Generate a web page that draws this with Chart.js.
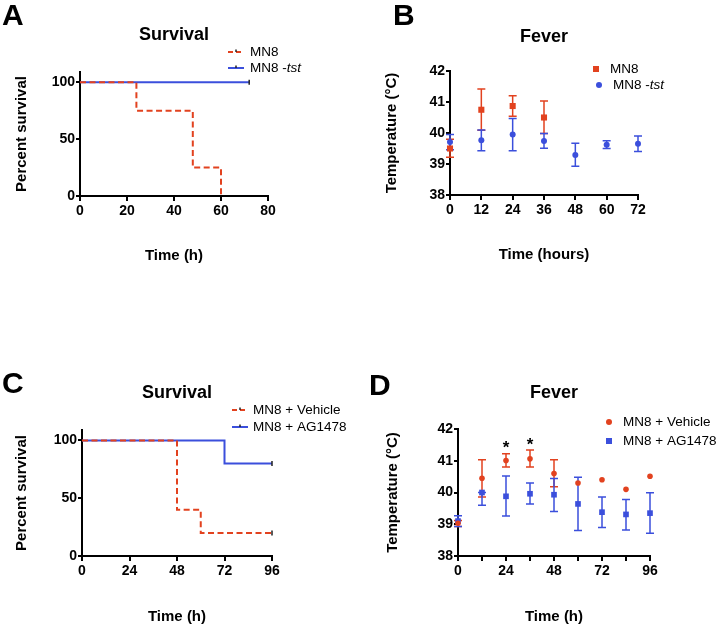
<!DOCTYPE html>
<html>
<head>
<meta charset="utf-8">
<script src="https://cdn.jsdelivr.net/npm/chart.js@4.4.1/dist/chart.umd.min.js"></script>
<style>
  body { margin: 0; background: #fff; width: 720px; height: 626px; position: relative; overflow: hidden; font-family: "Liberation Sans", Arial, sans-serif; }
  .pane { position: absolute; width: 360px; height: 313px; }
  .letter { position: absolute; font-weight: bold; font-size: 30px; line-height: 30px; color: #000; }
</style>
</head>
<body>
<div class="pane" style="left:0;top:0"><canvas id="chartA" width="360" height="313"></canvas></div>
<div class="pane" style="left:360px;top:0"><canvas id="chartB" width="360" height="313"></canvas></div>
<div class="pane" style="left:0;top:313px"><canvas id="chartC" width="360" height="313"></canvas></div>
<div class="pane" style="left:360px;top:313px"><canvas id="chartD" width="360" height="313"></canvas></div>
<div class="letter" style="left:2px;top:0">A</div>
<div class="letter" style="left:393px;top:0">B</div>
<div class="letter" style="left:2px;top:368px">C</div>
<div class="letter" style="left:369px;top:370px">D</div>
<script>
const FONT = '"Liberation Sans", Arial, Helvetica, sans-serif';
const RED = '#e2421f';
const BLUE = '#3b4fdc';

// A - survival
const aMn8Time = [0, 24, 48, 60];
const aMn8Surv = [100, 75, 25, 0];
const aTstTime = [0, 72];
const aTstSurv = [100, 100];
const aXTicks = [0, 20, 40, 60, 80];

// B - fever
const bMn8Time = [0, 12, 24, 36];
const bMn8Temp = [39.5, 40.75, 40.87, 40.5];
const bMn8Lo = [39.22, 40.09, 40.54, 39.98];
const bMn8Hi = [39.8, 41.42, 41.2, 41.03];
const bTstTime = [0, 12, 24, 36, 48, 60, 72];
const bTstTemp = [39.71, 39.77, 39.95, 39.74, 39.29, 39.62, 39.65];
const bTstLo = [39.46, 39.43, 39.43, 39.51, 38.93, 39.5, 39.4];
const bTstHi = [39.95, 40.1, 40.47, 39.98, 39.67, 39.75, 39.9];
const bXTicks = [0, 12, 24, 36, 48, 60, 72];

// C - survival
const cVehTime = [0, 48, 60, 96];
const cVehSurv = [100, 40, 20, 20];
const cAgTime = [0, 72, 96];
const cAgSurv = [100, 80, 80];
const cXTicks = [0, 24, 48, 72, 96];

// D - fever
const dTime = [0, 12, 24, 36, 48, 60, 72, 84, 96];
const dVehTemp = [39.03, 40.45, 41.01, 41.06, 40.6, 40.3, 40.4, 40.1, 40.51];
const dVehLo = [38.93, 39.86, 40.8, 40.8, 40.18, 40.3, 40.4, 40.1, 40.51];
const dVehHi = [39.12, 41.03, 41.22, 41.34, 41.03, 40.3, 40.4, 40.1, 40.51];
const dAgTemp = [39.1, 40.0, 39.88, 39.96, 39.93, 39.64, 39.38, 39.31, 39.35];
const dAgLo = [38.93, 39.6, 39.26, 39.64, 39.4, 38.8, 38.9, 38.82, 38.72];
const dAgHi = [39.27, 40.0, 40.52, 40.3, 40.44, 40.48, 39.86, 39.78, 39.99];
const dStarTime = [24, 36];
const dStarTemp = [41.48, 41.59];
const dXTicks = [0, 12, 24, 36, 48, 60, 72, 84, 96];
const dXLabels = ['0', '', '24', '', '48', '', '72', '', '96'];

const survYTicks = [0, 50, 100];
const tempYTicks = [38, 39, 40, 41, 42];

const tickFont = { family: FONT, size: 14, weight: 'bold' };
const titleFont = { family: FONT, size: 15, weight: 'bold' };

function axis(min, max, vals, labels, title, fit, horizontal) {
  return {
    type: 'linear', min, max,
    afterBuildTicks: s => { s.ticks = vals.map(v => ({ value: v })); },
    afterFit: s => { if (horizontal) s.height = fit; else s.width = fit; },
    ticks: { color: '#000', font: tickFont, padding: horizontal ? 2 : 1, maxRotation: 0, autoSkip: false,
      callback: (v, i) => labels[i] },
    grid: { display: true, drawOnChartArea: false, drawTicks: true, tickLength: horizontal ? 5 : 4, color: '#000', lineWidth: 2 },
    border: { display: true, color: '#000', width: 2 },
    title: { display: true, text: title, color: '#000', font: titleFont, padding: 0 }
  };
}

// error bars, title, legend, stars
const decor = {
  id: 'decor',
  beforeDatasetsDraw(chart) {
    const ctx = chart.ctx, xs = chart.scales.x, ys = chart.scales.y;
    chart.data.datasets.forEach(ds => {
      if (!ds.errLo) return;
      ctx.save();
      ctx.strokeStyle = ds.borderColor;
      ctx.lineWidth = 1.5;
      ds.data.forEach((p, i) => {
        const lo = ds.errLo[i], hi = ds.errHi[i];
        if (lo === hi) return;
        const x = xs.getPixelForValue(p.x);
        const y1 = ys.getPixelForValue(lo), y2 = ys.getPixelForValue(hi);
        ctx.beginPath();
        ctx.moveTo(x, y1); ctx.lineTo(x, y2);
        ctx.moveTo(x - 4, y1); ctx.lineTo(x + 4, y1);
        ctx.moveTo(x - 4, y2); ctx.lineTo(x + 4, y2);
        ctx.stroke();
      });
      ctx.restore();
    });
  },
  afterDraw(chart, args, o) {
    const ctx = chart.ctx, a = chart.chartArea;
    ctx.save();
    ctx.fillStyle = '#000';
    ctx.textBaseline = 'middle';
    ctx.textAlign = 'center';
    ctx.font = 'bold 18px ' + FONT;
    ctx.fillText(o.title, (a.left + a.right) / 2, o.titleY);

    o.legend.forEach(it => {
      const ds = chart.data.datasets[it.ds];
      const c = ds.borderColor;
      ctx.strokeStyle = c; ctx.fillStyle = c;
      if (it.kind === 'dash' || it.kind === 'line') {
        ctx.lineWidth = 2;
        ctx.setLineDash(it.kind === 'dash' ? [5, 3] : []);
        ctx.beginPath(); ctx.moveTo(it.x, it.y); ctx.lineTo(it.x + 16, it.y); ctx.stroke();
        ctx.setLineDash([]);
        ctx.strokeStyle = '#222'; ctx.lineWidth = 1.5;
        ctx.beginPath(); ctx.moveTo(it.x + 8, it.y - 2.5); ctx.lineTo(it.x + 8, it.y); ctx.stroke();
      } else if (it.kind === 'rect') {
        ctx.fillRect(it.x - 3, it.y - 3, 6, 6);
      } else {
        ctx.beginPath(); ctx.arc(it.x, it.y, 3, 0, Math.PI * 2); ctx.fill();
      }
      ctx.fillStyle = '#000';
      ctx.textAlign = 'left';
      let tx = it.tx;
      it.parts.forEach(p => {
        ctx.font = (p.italic ? 'italic ' : '') + '13.5px ' + FONT;
        ctx.fillText(p.t, tx, it.y);
        tx += ctx.measureText(p.t).width;
      });
    });

    if (o.stars) {
      const xs = chart.scales.x, ys = chart.scales.y;
      ctx.font = 'bold 17px ' + FONT;
      ctx.textAlign = 'center';
      ctx.fillStyle = '#000';
      o.stars.x.forEach((t, i) => {
        ctx.fillText('*', xs.getPixelForValue(t), ys.getPixelForValue(o.stars.y[i]) + 3);
      });
    }
    ctx.restore();
  }
};

function baseOptions(pad, scales, deco) {
  return {
    responsive: false, animation: false,
    layout: { padding: pad },
    scales,
    plugins: { legend: { display: false }, tooltip: { enabled: false }, decor: deco }
  };
}

function kmSet(xs, ys, color, dash, censor) {
  return {
    data: xs.map((x, i) => ({ x, y: ys[i] })),
    borderColor: color, borderWidth: 2, borderDash: dash ? [6, 3.5] : [],
    stepped: true, fill: false, clip: false,
    pointStyle: 'line', rotation: 90, pointBorderColor: '#222', pointBorderWidth: 1.5,
    pointRadius: c => (censor && c.dataIndex === xs.length - 1) ? 2.5 : 0
  };
}

function errSet(xs, ys, lo, hi, color, style, r) {
  return {
    data: xs.map((x, i) => ({ x, y: ys[i] })),
    errLo: lo, errHi: hi,
    borderColor: color, backgroundColor: color, showLine: false, clip: false,
    pointStyle: style, pointRadius: r, pointBorderWidth: 0
  };
}

// A
new Chart(document.getElementById('chartA'), {
  type: 'line',
  data: { datasets: [
    kmSet(aMn8Time, aMn8Surv, RED, true, false),
    kmSet(aTstTime, aTstSurv, BLUE, false, true)
  ] },
  options: baseOptions({ left: 13, top: 72, right: 92, bottom: 48 }, {
    x: axis(0, 80, aXTicks, aXTicks.map(String), 'Time (h)', 69, true),
    y: axis(0, 109, survYTicks, survYTicks.map(String), 'Percent survival', 67, false)
  }, {
    title: 'Survival', titleY: 35,
    legend: [
      { ds: 0, kind: 'dash', x: 228, tx: 250, y: 52, parts: [{ t: 'MN8' }] },
      { ds: 1, kind: 'line', x: 228, tx: 250, y: 68, parts: [{ t: 'MN8 -' }, { t: 'tst', italic: true }] }
    ]
  }),
  plugins: [decor]
});

// B
new Chart(document.getElementById('chartB'), {
  type: 'scatter',
  data: { datasets: [
    errSet(bMn8Time, bMn8Temp, bMn8Lo, bMn8Hi, RED, 'rect', 4.3),
    errSet(bTstTime, bTstTemp, bTstLo, bTstHi, BLUE, 'circle', 3)
  ] },
  options: baseOptions({ left: 23, top: 71, right: 82, bottom: 49 }, {
    x: axis(0, 72, bXTicks, bXTicks.map(String), 'Time (hours)', 69, true),
    y: axis(38, 42, tempYTicks, tempYTicks.map(String), 'Temperature (°C)', 67, false)
  }, {
    title: 'Fever', titleY: 37,
    legend: [
      { ds: 0, kind: 'rect', x: 236, tx: 250, y: 69, parts: [{ t: 'MN8' }] },
      { ds: 1, kind: 'circle', x: 239, tx: 253, y: 85, parts: [{ t: 'MN8 -' }, { t: 'tst', italic: true }] }
    ]
  }),
  plugins: [decor]
});

// C
new Chart(document.getElementById('chartC'), {
  type: 'line',
  data: { datasets: [
    kmSet(cVehTime, cVehSurv, RED, true, true),
    kmSet(cAgTime, cAgSurv, BLUE, false, true)
  ] },
  options: baseOptions({ left: 13, top: 117, right: 88, bottom: 0 }, {
    x: axis(0, 96, cXTicks, cXTicks.map(String), 'Time (h)', 70, true),
    y: axis(0, 109, survYTicks, survYTicks.map(String), 'Percent survival', 69, false)
  }, {
    title: 'Survival', titleY: 80,
    legend: [
      { ds: 0, kind: 'dash', x: 232, tx: 253, y: 97, parts: [{ t: 'MN8 + Vehicle' }] },
      { ds: 1, kind: 'line', x: 232, tx: 253, y: 114, parts: [{ t: 'MN8 + AG1478' }] }
    ]
  }),
  plugins: [decor]
});

// D
new Chart(document.getElementById('chartD'), {
  type: 'scatter',
  data: { datasets: [
    errSet(dTime, dVehTemp, dVehLo, dVehHi, RED, 'circle', 2.8),
    errSet(dTime, dAgTemp, dAgLo, dAgHi, BLUE, 'rect', 4)
  ] },
  options: baseOptions({ left: 24, top: 116, right: 70, bottom: 0 }, {
    x: axis(0, 96, dXTicks, dXLabels, 'Time (h)', 70, true),
    y: axis(38, 42, tempYTicks, tempYTicks.map(String), 'Temperature (°C)', 74, false)
  }, {
    title: 'Fever', titleY: 80,
    legend: [
      { ds: 0, kind: 'circle', x: 249, tx: 263, y: 109, parts: [{ t: 'MN8 + Vehicle' }] },
      { ds: 1, kind: 'rect', x: 249, tx: 263, y: 128, parts: [{ t: 'MN8 + AG1478' }] }
    ],
    stars: { x: dStarTime, y: dStarTemp }
  }),
  plugins: [decor]
});
</script>
</body>
</html>
